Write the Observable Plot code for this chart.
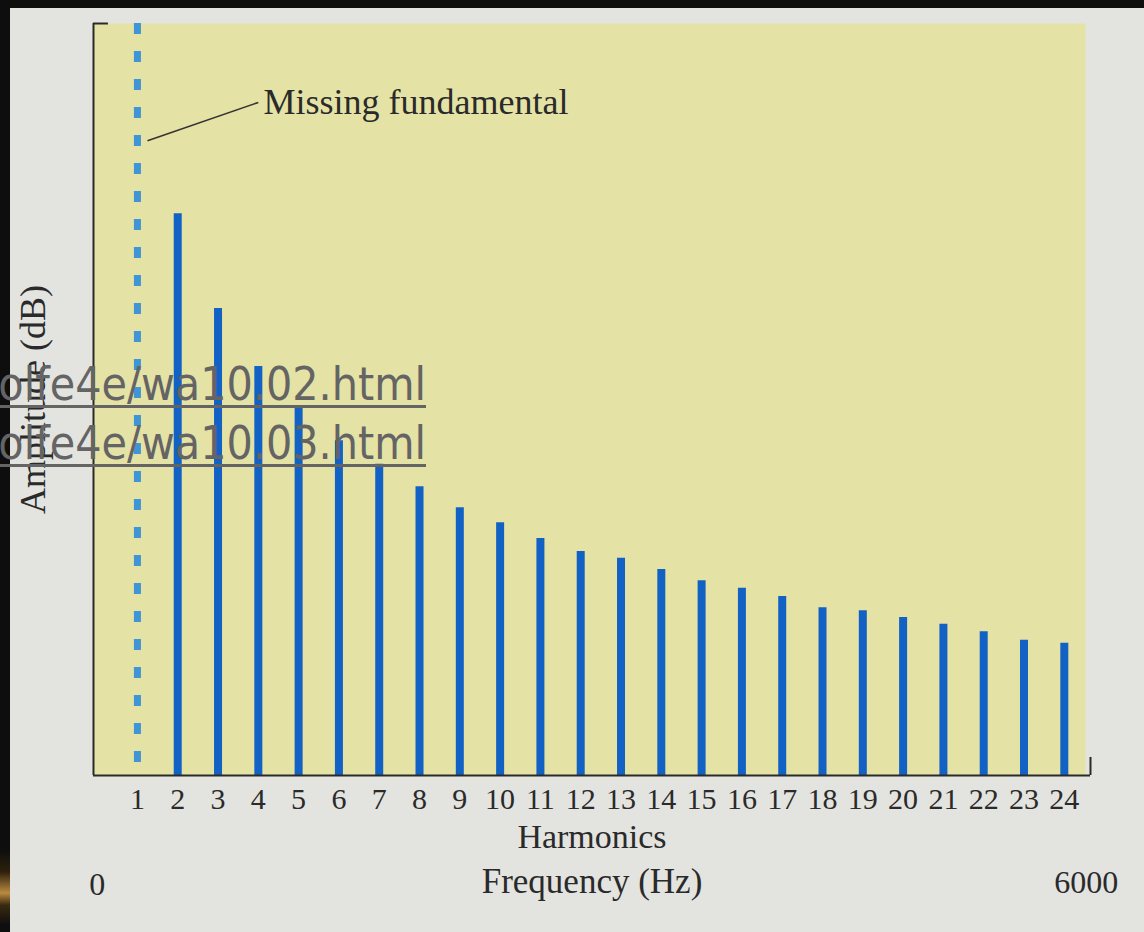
<!DOCTYPE html>
<html>
<head>
<meta charset="utf-8">
<script src="https://cdn.jsdelivr.net/npm/d3@7"></script>
<script src="https://cdn.jsdelivr.net/npm/@observablehq/plot@0.6"></script>
<style>
  html, body { margin: 0; padding: 0; width: 1144px; height: 932px; overflow: hidden; background: #e3e3df; }
  #chart { position: absolute; left: 0; top: 0; }
  .strip-top { position: absolute; left: 0; top: 0; width: 1144px; height: 8px; background: #0e0e0e; z-index: 5; }
  .strip-left { position: absolute; left: 0; top: 0; width: 10px; height: 932px; z-index: 5;
    background: linear-gradient(to bottom, #0e0e0e 0px, #0e0e0e 850px, #2e210c 872px, #b98a40 893px, #3a2a10 905px, #0e0e0e 925px); }
  .link { position: absolute; right: 718px; white-space: nowrap; z-index: 6;
    font-family: "DejaVu Sans Condensed", "DejaVu Sans", sans-serif; font-stretch: condensed; font-size: 46px;
    color: #646464; text-decoration: underline; text-decoration-thickness: 3px; text-underline-offset: 5px; line-height: 1; }
</style>
</head>
<body>
<div class="strip-top"></div>
<div class="strip-left"></div>
<div id="chart"></div>
<div class="link" style="top:361px">olfe4e/wa10.02.html</div>
<div class="link" style="top:420px">olfe4e/wa10.03.html</div>
<script>
// Harmonic numbers (1 = missing fundamental)
const harmonics = [1,2,3,4,5,6,7,8,9,10,11,12,13,14,15,16,17,18,19,20,21,22,23,24];
// Relative amplitude (0–100 scale of the y axis); harmonic 1 is missing
const amplitudes = [null,74.7,62.1,54.4,48.9,44.5,41.4,38.4,35.6,33.6,31.5,29.8,28.9,27.4,25.9,24.9,23.8,22.3,21.9,21.0,20.1,19.1,18.0,17.6];
// Frequency axis end labels (harmonic position, label)
const freqStart = {h: 0, label: "0"};
const freqEnd = {h: 24, label: "6000"};
// Annotation
const annotationText = "Missing fundamental";
const annotationLeader = [{x1: 1.25, y1: 84.4, x2: 4.0, y2: 89.5}];
const annotationAt = {h: 4.13, y: 89.5};

const bars = harmonics.map((h, i) => ({h, amp: amplitudes[i]})).filter(d => d.amp != null);
const missing = harmonics.filter((h, i) => amplitudes[i] == null);

const xDomain = [-0.09, 24.65];
const serif = "Liberation Serif, Times New Roman, serif";
const ink = "#2a2a2a";

const plot = Plot.plot({
  width: 1144,
  height: 932,
  marginLeft: 93,
  marginRight: 54,
  marginTop: 23,
  marginBottom: 157,
  style: {background: "transparent", fontFamily: serif},
  x: {domain: xDomain, axis: null},
  y: {domain: [0, 100], axis: null},
  marks: [
    Plot.frame({fill: "#e4e2a4", stroke: null, insetRight: 5}),
    // missing fundamental: dashed line
    Plot.ruleX(missing, {x: d => d, y1: 100, y2: 0, stroke: "#3f95d6", strokeWidth: 7, strokeDasharray: "11 17"}),
    // harmonic bars
    Plot.ruleX(bars, {x: "h", y1: 0, y2: "amp", stroke: "#1262c6", strokeWidth: 8}),
    // axes lines
    Plot.ruleX([xDomain[0]], {y1: 0, y2: 100, stroke: ink, strokeWidth: 2}),
    Plot.ruleY([100], {x1: xDomain[0], x2: xDomain[0] + 0.37, stroke: ink, strokeWidth: 2}),
    Plot.ruleY([0], {x1: xDomain[0], x2: xDomain[1], stroke: ink, strokeWidth: 2}),
    Plot.ruleX([xDomain[1]], {y1: 0, y2: 2.4, stroke: ink, strokeWidth: 2}),
    // harmonic tick labels
    Plot.text(harmonics, {x: d => d, frameAnchor: "bottom", dy: 24, text: d => String(d), fontSize: 30, fill: ink, lineAnchor: "middle"}),
    Plot.text(["Harmonics"], {frameAnchor: "bottom", dy: 62, text: d => d, fontSize: 34, fill: ink, lineAnchor: "middle"}),
    Plot.text(["Frequency (Hz)"], {frameAnchor: "bottom", dy: 106, text: d => d, fontSize: 35, fill: ink, lineAnchor: "middle"}),
    Plot.text([freqStart], {x: "h", frameAnchor: "bottom", dy: 109, text: "label", fontSize: 32, fill: ink, lineAnchor: "middle"}),
    Plot.text([freqEnd], {x: "h", frameAnchor: "bottom", dy: 107, dx: 22, text: "label", fontSize: 32, fill: ink, lineAnchor: "middle"}),
    // y axis label
    Plot.text(["Amplitude (dB)"], {frameAnchor: "left", dx: -60, rotate: -90, textAnchor: "middle", text: d => d, fontSize: 36, fill: ink, lineAnchor: "middle"}),
    // annotation
    Plot.link(annotationLeader, {x1: "x1", y1: "y1", x2: "x2", y2: "y2", stroke: "#333", strokeWidth: 1.6}),
    Plot.text([annotationText], {x: annotationAt.h, y: annotationAt.y, text: d => d, textAnchor: "start", fontSize: 36, fill: ink, lineAnchor: "middle"})
  ]
});
document.getElementById("chart").appendChild(plot);
</script>
</body>
</html>
